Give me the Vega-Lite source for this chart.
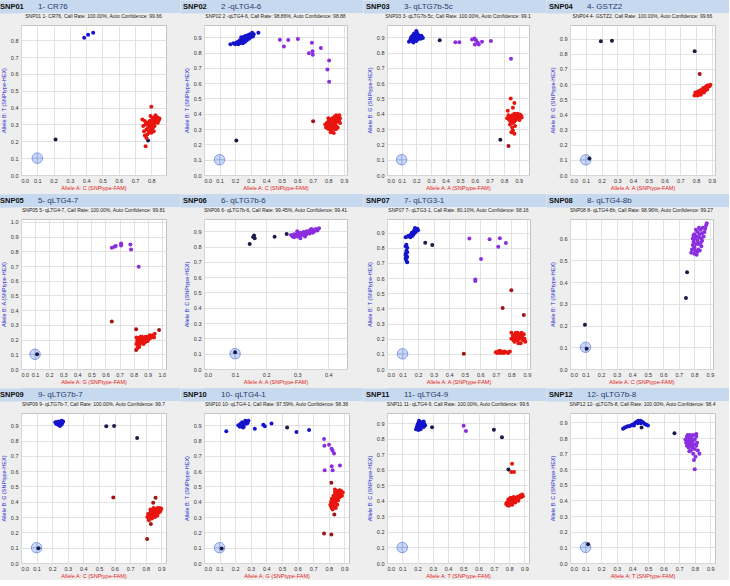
{
"$schema": "https://vega.github.io/schema/vega-lite/v6.json",
"padding": {"left": 0, "top": 0, "right": 0, "bottom": 0},
"datasets": {
"hdr": [
{"s":1,"part":"id","label":"SNP01"},{"s":1,"part":"name","label":"1- CR76"},
{"s":2,"part":"id","label":"SNP02"},{"s":2,"part":"name","label":"2 -qLTG4-6"},
{"s":3,"part":"id","label":"SNP03"},{"s":3,"part":"name","label":"3- qLTG7b-5c"},
{"s":4,"part":"id","label":"SNP04"},{"s":4,"part":"name","label":"4- GSTZ2"},
{"s":5,"part":"id","label":"SNP05"},{"s":5,"part":"name","label":"5- qLTG4-7"},
{"s":6,"part":"id","label":"SNP06"},{"s":6,"part":"name","label":"6- qLTG7b-6"},
{"s":7,"part":"id","label":"SNP07"},{"s":7,"part":"name","label":"7- qLTG3-1"},
{"s":8,"part":"id","label":"SNP08"},{"s":8,"part":"name","label":"8- qLTG4-8b"},
{"s":9,"part":"id","label":"SNP09"},{"s":9,"part":"name","label":"9- qLTG7b-7"},
{"s":10,"part":"id","label":"SNP10"},{"s":10,"part":"name","label":"10- qLTG4-1"},
{"s":11,"part":"id","label":"SNP11"},{"s":11,"part":"name","label":"11- qLTG4-9"},
{"s":12,"part":"id","label":"SNP12"},{"s":12,"part":"name","label":"12- qLTG7b-8"}
],
"pts": [
{"s":1,"g":"NTC","x":0.1,"y":0.1},{"s":2,"g":"NTC","x":0.1,"y":0.1},{"s":3,"g":"NTC","x":0.1,"y":0.1},{"s":4,"g":"NTC","x":0.1,"y":0.1},{"s":5,"g":"NTC","x":0.1,"y":0.1},{"s":6,"g":"NTC","x":0.1,"y":0.1},{"s":7,"g":"NTC","x":0.1,"y":0.1},{"s":8,"g":"NTC","x":0.1,"y":0.1},{"s":9,"g":"NTC","x":0.1,"y":0.1},{"s":10,"g":"NTC","x":0.1,"y":0.1},{"s":11,"g":"NTC","x":0.1,"y":0.1},{"s":12,"g":"NTC","x":0.1,"y":0.1},

{"s":1,"g":"B","x":0.388,"y":0.814},{"s":1,"g":"B","x":0.412,"y":0.832},{"s":1,"g":"B","x":0.443,"y":0.844},
{"s":1,"g":"U","x":0.212,"y":0.21},{"s":1,"g":"U","x":0.78,"y":0.205},
{"s":1,"g":"A","x":0.8,"y":0.405},{"s":1,"g":"A","x":0.745,"y":0.33},{"s":1,"g":"A","x":0.75,"y":0.29},{"s":1,"g":"A","x":0.755,"y":0.26},{"s":1,"g":"A","x":0.76,"y":0.235},{"s":1,"g":"A","x":0.765,"y":0.17},{"s":1,"g":"A","x":0.775,"y":0.24},{"s":1,"g":"A","x":0.77,"y":0.27},{"s":1,"g":"A","x":0.78,"y":0.28},{"s":1,"g":"A","x":0.785,"y":0.3},{"s":1,"g":"A","x":0.79,"y":0.26},{"s":1,"g":"A","x":0.79,"y":0.32},{"s":1,"g":"A","x":0.795,"y":0.29},{"s":1,"g":"A","x":0.8,"y":0.31},{"s":1,"g":"A","x":0.8,"y":0.27},{"s":1,"g":"A","x":0.805,"y":0.33},{"s":1,"g":"A","x":0.81,"y":0.3},{"s":1,"g":"A","x":0.81,"y":0.34},{"s":1,"g":"A","x":0.815,"y":0.32},{"s":1,"g":"A","x":0.82,"y":0.29},{"s":1,"g":"A","x":0.82,"y":0.335},{"s":1,"g":"A","x":0.825,"y":0.31},{"s":1,"g":"A","x":0.83,"y":0.345},{"s":1,"g":"A","x":0.83,"y":0.32},{"s":1,"g":"A","x":0.835,"y":0.33},{"s":1,"g":"A","x":0.84,"y":0.34},{"s":1,"g":"A","x":0.845,"y":0.325},{"s":1,"g":"A","x":0.85,"y":0.335},{"s":1,"g":"A","x":0.84,"y":0.31},{"s":1,"g":"A","x":0.775,"y":0.31},{"s":1,"g":"A","x":0.765,"y":0.3},{"s":1,"g":"A","x":0.785,"y":0.25},{"s":1,"g":"A","x":0.8,"y":0.25},{"s":1,"g":"A","x":0.81,"y":0.28},{"s":1,"g":"A","x":0.795,"y":0.35},{"s":1,"g":"A","x":0.825,"y":0.355},{"s":1,"g":"A","x":0.77,"y":0.22},{"s":1,"g":"A","x":0.76,"y":0.32},{"s":1,"g":"A","x":0.815,"y":0.26},

{"s":2,"g":"B","x":0.17,"y":0.855},{"s":2,"g":"B","x":0.19,"y":0.86},{"s":2,"g":"B","x":0.2,"y":0.855},{"s":2,"g":"B","x":0.21,"y":0.865},{"s":2,"g":"B","x":0.22,"y":0.87},{"s":2,"g":"B","x":0.22,"y":0.855},{"s":2,"g":"B","x":0.23,"y":0.88},{"s":2,"g":"B","x":0.235,"y":0.865},{"s":2,"g":"B","x":0.24,"y":0.875},{"s":2,"g":"B","x":0.245,"y":0.89},{"s":2,"g":"B","x":0.25,"y":0.88},{"s":2,"g":"B","x":0.25,"y":0.86},{"s":2,"g":"B","x":0.255,"y":0.9},{"s":2,"g":"B","x":0.26,"y":0.885},{"s":2,"g":"B","x":0.265,"y":0.87},{"s":2,"g":"B","x":0.27,"y":0.895},{"s":2,"g":"B","x":0.27,"y":0.91},{"s":2,"g":"B","x":0.275,"y":0.88},{"s":2,"g":"B","x":0.28,"y":0.9},{"s":2,"g":"B","x":0.285,"y":0.915},{"s":2,"g":"B","x":0.29,"y":0.89},{"s":2,"g":"B","x":0.29,"y":0.905},{"s":2,"g":"B","x":0.295,"y":0.92},{"s":2,"g":"B","x":0.3,"y":0.9},{"s":2,"g":"B","x":0.305,"y":0.915},{"s":2,"g":"B","x":0.31,"y":0.93},{"s":2,"g":"B","x":0.315,"y":0.905},{"s":2,"g":"B","x":0.32,"y":0.92},{"s":2,"g":"B","x":0.35,"y":0.93},{"s":2,"g":"B","x":0.26,"y":0.905},{"s":2,"g":"B","x":0.24,"y":0.9},{"s":2,"g":"B","x":0.23,"y":0.86},
{"s":2,"g":"H","x":0.488,"y":0.884},{"s":2,"g":"H","x":0.514,"y":0.84},{"s":2,"g":"H","x":0.542,"y":0.882},{"s":2,"g":"H","x":0.604,"y":0.888},{"s":2,"g":"H","x":0.694,"y":0.864},{"s":2,"g":"H","x":0.675,"y":0.796},{"s":2,"g":"H","x":0.698,"y":0.809},{"s":2,"g":"H","x":0.7,"y":0.785},{"s":2,"g":"H","x":0.752,"y":0.829},{"s":2,"g":"H","x":0.805,"y":0.748},{"s":2,"g":"H","x":0.794,"y":0.69},{"s":2,"g":"H","x":0.805,"y":0.61},
{"s":2,"g":"U","x":0.208,"y":0.226},{"s":2,"g":"R","x":0.702,"y":0.351},
{"s":2,"g":"A","x":0.78,"y":0.33},{"s":2,"g":"A","x":0.785,"y":0.31},{"s":2,"g":"A","x":0.79,"y":0.34},{"s":2,"g":"A","x":0.795,"y":0.32},{"s":2,"g":"A","x":0.8,"y":0.3},{"s":2,"g":"A","x":0.8,"y":0.35},{"s":2,"g":"A","x":0.805,"y":0.33},{"s":2,"g":"A","x":0.81,"y":0.31},{"s":2,"g":"A","x":0.81,"y":0.36},{"s":2,"g":"A","x":0.815,"y":0.34},{"s":2,"g":"A","x":0.82,"y":0.32},{"s":2,"g":"A","x":0.82,"y":0.29},{"s":2,"g":"A","x":0.825,"y":0.37},{"s":2,"g":"A","x":0.83,"y":0.35},{"s":2,"g":"A","x":0.83,"y":0.31},{"s":2,"g":"A","x":0.835,"y":0.33},{"s":2,"g":"A","x":0.84,"y":0.38},{"s":2,"g":"A","x":0.84,"y":0.36},{"s":2,"g":"A","x":0.845,"y":0.34},{"s":2,"g":"A","x":0.85,"y":0.39},{"s":2,"g":"A","x":0.85,"y":0.32},{"s":2,"g":"A","x":0.855,"y":0.37},{"s":2,"g":"A","x":0.86,"y":0.35},{"s":2,"g":"A","x":0.865,"y":0.38},{"s":2,"g":"A","x":0.87,"y":0.36},{"s":2,"g":"A","x":0.87,"y":0.39},{"s":2,"g":"A","x":0.875,"y":0.34},{"s":2,"g":"A","x":0.86,"y":0.31},{"s":2,"g":"A","x":0.84,"y":0.3},{"s":2,"g":"A","x":0.815,"y":0.28},{"s":2,"g":"A","x":0.835,"y":0.275},{"s":2,"g":"A","x":0.85,"y":0.3},{"s":2,"g":"A","x":0.875,"y":0.37},{"s":2,"g":"A","x":0.8,"y":0.37},

{"s":3,"g":"B","x":0.15,"y":0.87},{"s":3,"g":"B","x":0.16,"y":0.885},{"s":3,"g":"B","x":0.165,"y":0.9},{"s":3,"g":"B","x":0.17,"y":0.875},{"s":3,"g":"B","x":0.175,"y":0.91},{"s":3,"g":"B","x":0.18,"y":0.89},{"s":3,"g":"B","x":0.18,"y":0.865},{"s":3,"g":"B","x":0.185,"y":0.905},{"s":3,"g":"B","x":0.19,"y":0.88},{"s":3,"g":"B","x":0.19,"y":0.92},{"s":3,"g":"B","x":0.195,"y":0.895},{"s":3,"g":"B","x":0.2,"y":0.91},{"s":3,"g":"B","x":0.2,"y":0.875},{"s":3,"g":"B","x":0.205,"y":0.93},{"s":3,"g":"B","x":0.21,"y":0.9},{"s":3,"g":"B","x":0.21,"y":0.885},{"s":3,"g":"B","x":0.215,"y":0.915},{"s":3,"g":"B","x":0.22,"y":0.895},{"s":3,"g":"B","x":0.225,"y":0.905},{"s":3,"g":"B","x":0.23,"y":0.89},{"s":3,"g":"B","x":0.235,"y":0.91},{"s":3,"g":"B","x":0.24,"y":0.9},{"s":3,"g":"B","x":0.245,"y":0.895},{"s":3,"g":"B","x":0.2,"y":0.94},{"s":3,"g":"B","x":0.17,"y":0.9},{"s":3,"g":"B","x":0.185,"y":0.925},
{"s":3,"g":"U","x":0.36,"y":0.881},
{"s":3,"g":"H","x":0.467,"y":0.868},{"s":3,"g":"H","x":0.494,"y":0.868},{"s":3,"g":"H","x":0.581,"y":0.886},{"s":3,"g":"H","x":0.597,"y":0.892},{"s":3,"g":"H","x":0.608,"y":0.881},{"s":3,"g":"H","x":0.62,"y":0.864},{"s":3,"g":"H","x":0.649,"y":0.87},{"s":3,"g":"H","x":0.627,"y":0.853},{"s":3,"g":"H","x":0.6,"y":0.853},{"s":3,"g":"H","x":0.71,"y":0.875},{"s":3,"g":"H","x":0.847,"y":0.76},
{"s":3,"g":"U","x":0.774,"y":0.231},{"s":3,"g":"R","x":0.83,"y":0.19},
{"s":3,"g":"A","x":0.845,"y":0.5},{"s":3,"g":"A","x":0.87,"y":0.47},{"s":3,"g":"A","x":0.825,"y":0.42},{"s":3,"g":"A","x":0.86,"y":0.44},{"s":3,"g":"A","x":0.83,"y":0.39},{"s":3,"g":"A","x":0.835,"y":0.36},{"s":3,"g":"A","x":0.84,"y":0.38},{"s":3,"g":"A","x":0.845,"y":0.35},{"s":3,"g":"A","x":0.85,"y":0.37},{"s":3,"g":"A","x":0.855,"y":0.39},{"s":3,"g":"A","x":0.86,"y":0.36},{"s":3,"g":"A","x":0.865,"y":0.38},{"s":3,"g":"A","x":0.87,"y":0.4},{"s":3,"g":"A","x":0.875,"y":0.37},{"s":3,"g":"A","x":0.88,"y":0.39},{"s":3,"g":"A","x":0.885,"y":0.38},{"s":3,"g":"A","x":0.89,"y":0.4},{"s":3,"g":"A","x":0.895,"y":0.39},{"s":3,"g":"A","x":0.9,"y":0.37},{"s":3,"g":"A","x":0.905,"y":0.395},{"s":3,"g":"A","x":0.91,"y":0.38},{"s":3,"g":"A","x":0.915,"y":0.39},{"s":3,"g":"A","x":0.92,"y":0.375},{"s":3,"g":"A","x":0.86,"y":0.34},{"s":3,"g":"A","x":0.87,"y":0.35},{"s":3,"g":"A","x":0.88,"y":0.36},{"s":3,"g":"A","x":0.82,"y":0.37},{"s":3,"g":"A","x":0.84,"y":0.33},{"s":3,"g":"A","x":0.855,"y":0.31},{"s":3,"g":"A","x":0.86,"y":0.29},{"s":3,"g":"A","x":0.85,"y":0.28},{"s":3,"g":"A","x":0.87,"y":0.27},{"s":3,"g":"A","x":0.895,"y":0.37},{"s":3,"g":"A","x":0.905,"y":0.36},{"s":3,"g":"A","x":0.875,"y":0.32},

{"s":4,"g":"U","x":0.196,"y":0.882},{"s":4,"g":"U","x":0.266,"y":0.886},{"s":4,"g":"U","x":0.791,"y":0.816},{"s":4,"g":"U","x":0.123,"y":0.109},{"s":4,"g":"R","x":0.823,"y":0.667},
{"s":4,"g":"A","x":0.79,"y":0.525},{"s":4,"g":"A","x":0.8,"y":0.53},{"s":4,"g":"A","x":0.805,"y":0.54},{"s":4,"g":"A","x":0.81,"y":0.525},{"s":4,"g":"A","x":0.815,"y":0.545},{"s":4,"g":"A","x":0.82,"y":0.535},{"s":4,"g":"A","x":0.82,"y":0.555},{"s":4,"g":"A","x":0.825,"y":0.545},{"s":4,"g":"A","x":0.83,"y":0.56},{"s":4,"g":"A","x":0.835,"y":0.55},{"s":4,"g":"A","x":0.84,"y":0.565},{"s":4,"g":"A","x":0.84,"y":0.545},{"s":4,"g":"A","x":0.845,"y":0.575},{"s":4,"g":"A","x":0.85,"y":0.56},{"s":4,"g":"A","x":0.855,"y":0.57},{"s":4,"g":"A","x":0.86,"y":0.58},{"s":4,"g":"A","x":0.86,"y":0.56},{"s":4,"g":"A","x":0.865,"y":0.575},{"s":4,"g":"A","x":0.87,"y":0.59},{"s":4,"g":"A","x":0.875,"y":0.58},{"s":4,"g":"A","x":0.88,"y":0.59},{"s":4,"g":"A","x":0.885,"y":0.585},{"s":4,"g":"A","x":0.89,"y":0.595},{"s":4,"g":"A","x":0.83,"y":0.53},{"s":4,"g":"A","x":0.85,"y":0.545},{"s":4,"g":"A","x":0.81,"y":0.55},{"s":4,"g":"A","x":0.795,"y":0.545},{"s":4,"g":"A","x":0.87,"y":0.565},

{"s":5,"g":"H","x":0.645,"y":0.825},{"s":5,"g":"H","x":0.664,"y":0.831},{"s":5,"g":"H","x":0.673,"y":0.836},{"s":5,"g":"H","x":0.711,"y":0.854},{"s":5,"g":"H","x":0.711,"y":0.84},{"s":5,"g":"H","x":0.777,"y":0.847},{"s":5,"g":"H","x":0.782,"y":0.813},{"s":5,"g":"H","x":0.836,"y":0.695},
{"s":5,"g":"R","x":0.645,"y":0.323},{"s":5,"g":"R","x":0.818,"y":0.271},{"s":5,"g":"R","x":0.981,"y":0.266},{"s":5,"g":"R","x":0.818,"y":0.13},{"s":5,"g":"U","x":0.114,"y":0.1},
{"s":5,"g":"A","x":0.82,"y":0.17},{"s":5,"g":"A","x":0.825,"y":0.19},{"s":5,"g":"A","x":0.83,"y":0.16},{"s":5,"g":"A","x":0.83,"y":0.2},{"s":5,"g":"A","x":0.835,"y":0.18},{"s":5,"g":"A","x":0.84,"y":0.21},{"s":5,"g":"A","x":0.845,"y":0.17},{"s":5,"g":"A","x":0.85,"y":0.19},{"s":5,"g":"A","x":0.855,"y":0.2},{"s":5,"g":"A","x":0.86,"y":0.18},{"s":5,"g":"A","x":0.86,"y":0.22},{"s":5,"g":"A","x":0.865,"y":0.2},{"s":5,"g":"A","x":0.87,"y":0.19},{"s":5,"g":"A","x":0.875,"y":0.21},{"s":5,"g":"A","x":0.88,"y":0.2},{"s":5,"g":"A","x":0.885,"y":0.22},{"s":5,"g":"A","x":0.89,"y":0.21},{"s":5,"g":"A","x":0.895,"y":0.19},{"s":5,"g":"A","x":0.9,"y":0.22},{"s":5,"g":"A","x":0.905,"y":0.2},{"s":5,"g":"A","x":0.91,"y":0.21},{"s":5,"g":"A","x":0.915,"y":0.23},{"s":5,"g":"A","x":0.92,"y":0.21},{"s":5,"g":"A","x":0.93,"y":0.22},{"s":5,"g":"A","x":0.935,"y":0.23},{"s":5,"g":"A","x":0.94,"y":0.225},{"s":5,"g":"A","x":0.95,"y":0.24},{"s":5,"g":"A","x":0.84,"y":0.15},{"s":5,"g":"A","x":0.825,"y":0.14},{"s":5,"g":"A","x":0.87,"y":0.17},{"s":5,"g":"A","x":0.85,"y":0.22},{"s":5,"g":"A","x":0.88,"y":0.18},{"s":5,"g":"A","x":0.9,"y":0.19},{"s":5,"g":"A","x":0.82,"y":0.215},{"s":5,"g":"A","x":0.945,"y":0.215},

{"s":6,"g":"U","x":0.147,"y":0.817},{"s":6,"g":"U","x":0.158,"y":0.862},{"s":6,"g":"U","x":0.161,"y":0.873},{"s":6,"g":"U","x":0.163,"y":0.855},{"s":6,"g":"U","x":0.227,"y":0.864},{"s":6,"g":"U","x":0.266,"y":0.882},{"s":6,"g":"U","x":0.1,"y":0.11},
{"s":6,"g":"H","x":0.28,"y":0.875},{"s":6,"g":"H","x":0.285,"y":0.865},{"s":6,"g":"H","x":0.29,"y":0.88},{"s":6,"g":"H","x":0.295,"y":0.87},{"s":6,"g":"H","x":0.3,"y":0.885},{"s":6,"g":"H","x":0.3,"y":0.865},{"s":6,"g":"H","x":0.305,"y":0.875},{"s":6,"g":"H","x":0.31,"y":0.89},{"s":6,"g":"H","x":0.31,"y":0.87},{"s":6,"g":"H","x":0.315,"y":0.88},{"s":6,"g":"H","x":0.32,"y":0.895},{"s":6,"g":"H","x":0.32,"y":0.875},{"s":6,"g":"H","x":0.325,"y":0.885},{"s":6,"g":"H","x":0.33,"y":0.9},{"s":6,"g":"H","x":0.33,"y":0.88},{"s":6,"g":"H","x":0.335,"y":0.89},{"s":6,"g":"H","x":0.34,"y":0.905},{"s":6,"g":"H","x":0.34,"y":0.885},{"s":6,"g":"H","x":0.345,"y":0.895},{"s":6,"g":"H","x":0.35,"y":0.91},{"s":6,"g":"H","x":0.35,"y":0.89},{"s":6,"g":"H","x":0.355,"y":0.9},{"s":6,"g":"H","x":0.36,"y":0.915},{"s":6,"g":"H","x":0.365,"y":0.905},{"s":6,"g":"H","x":0.37,"y":0.92},{"s":6,"g":"H","x":0.3,"y":0.9},{"s":6,"g":"H","x":0.29,"y":0.86},{"s":6,"g":"H","x":0.325,"y":0.865},{"s":6,"g":"H","x":0.345,"y":0.915},{"s":6,"g":"H","x":0.31,"y":0.855},

{"s":7,"g":"B","x":0.12,"y":0.87},{"s":7,"g":"B","x":0.13,"y":0.875},{"s":7,"g":"B","x":0.14,"y":0.88},{"s":7,"g":"B","x":0.15,"y":0.87},{"s":7,"g":"B","x":0.155,"y":0.89},{"s":7,"g":"B","x":0.16,"y":0.9},{"s":7,"g":"B","x":0.165,"y":0.88},{"s":7,"g":"B","x":0.17,"y":0.905},{"s":7,"g":"B","x":0.175,"y":0.915},{"s":7,"g":"B","x":0.18,"y":0.9},{"s":7,"g":"B","x":0.185,"y":0.92},{"s":7,"g":"B","x":0.19,"y":0.91},{"s":7,"g":"B","x":0.195,"y":0.925},{"s":7,"g":"B","x":0.2,"y":0.915},{"s":7,"g":"B","x":0.17,"y":0.89},{"s":7,"g":"B","x":0.16,"y":0.88},{"s":7,"g":"B","x":0.18,"y":0.93},
{"s":7,"g":"B","x":0.125,"y":0.82},{"s":7,"g":"B","x":0.13,"y":0.8},{"s":7,"g":"B","x":0.12,"y":0.81},{"s":7,"g":"B","x":0.125,"y":0.78},{"s":7,"g":"B","x":0.13,"y":0.77},{"s":7,"g":"B","x":0.12,"y":0.76},{"s":7,"g":"B","x":0.125,"y":0.745},{"s":7,"g":"B","x":0.13,"y":0.74},{"s":7,"g":"B","x":0.12,"y":0.73},{"s":7,"g":"B","x":0.125,"y":0.715},{"s":7,"g":"B","x":0.13,"y":0.705},{"s":7,"g":"B","x":0.12,"y":0.75},
{"s":7,"g":"U","x":0.246,"y":0.834},{"s":7,"g":"U","x":0.291,"y":0.819},
{"s":7,"g":"H","x":0.53,"y":0.861},{"s":7,"g":"H","x":0.605,"y":0.726},{"s":7,"g":"H","x":0.568,"y":0.591},{"s":7,"g":"H","x":0.568,"y":0.58},{"s":7,"g":"H","x":0.66,"y":0.856},{"s":7,"g":"H","x":0.726,"y":0.863},{"s":7,"g":"H","x":0.716,"y":0.807},{"s":7,"g":"H","x":0.765,"y":0.832},
{"s":7,"g":"R","x":0.8,"y":0.52},{"s":7,"g":"R","x":0.744,"y":0.403},{"s":7,"g":"R","x":0.88,"y":0.356},{"s":7,"g":"R","x":0.494,"y":0.1},
{"s":7,"g":"A","x":0.8,"y":0.2},{"s":7,"g":"A","x":0.81,"y":0.22},{"s":7,"g":"A","x":0.815,"y":0.19},{"s":7,"g":"A","x":0.82,"y":0.21},{"s":7,"g":"A","x":0.825,"y":0.235},{"s":7,"g":"A","x":0.83,"y":0.2},{"s":7,"g":"A","x":0.835,"y":0.22},{"s":7,"g":"A","x":0.84,"y":0.24},{"s":7,"g":"A","x":0.84,"y":0.19},{"s":7,"g":"A","x":0.845,"y":0.21},{"s":7,"g":"A","x":0.85,"y":0.23},{"s":7,"g":"A","x":0.855,"y":0.2},{"s":7,"g":"A","x":0.86,"y":0.22},{"s":7,"g":"A","x":0.865,"y":0.24},{"s":7,"g":"A","x":0.87,"y":0.21},{"s":7,"g":"A","x":0.875,"y":0.19},{"s":7,"g":"A","x":0.88,"y":0.23},{"s":7,"g":"A","x":0.885,"y":0.2},{"s":7,"g":"A","x":0.89,"y":0.18},{"s":7,"g":"A","x":0.82,"y":0.18},{"s":7,"g":"A","x":0.83,"y":0.24},{"s":7,"g":"A","x":0.86,"y":0.17},{"s":7,"g":"A","x":0.845,"y":0.17},{"s":7,"g":"A","x":0.8,"y":0.24},
{"s":7,"g":"A","x":0.7,"y":0.11},{"s":7,"g":"A","x":0.71,"y":0.105},{"s":7,"g":"A","x":0.715,"y":0.115},{"s":7,"g":"A","x":0.72,"y":0.11},{"s":7,"g":"A","x":0.73,"y":0.105},{"s":7,"g":"A","x":0.735,"y":0.115},{"s":7,"g":"A","x":0.74,"y":0.11},{"s":7,"g":"A","x":0.75,"y":0.105},{"s":7,"g":"A","x":0.755,"y":0.115},{"s":7,"g":"A","x":0.76,"y":0.11},{"s":7,"g":"A","x":0.77,"y":0.11},{"s":7,"g":"A","x":0.78,"y":0.105},{"s":7,"g":"A","x":0.79,"y":0.115},{"s":7,"g":"A","x":0.725,"y":0.12},

{"s":8,"g":"H","x":0.78,"y":0.535},{"s":8,"g":"H","x":0.785,"y":0.55},{"s":8,"g":"H","x":0.79,"y":0.57},{"s":8,"g":"H","x":0.79,"y":0.6},{"s":8,"g":"H","x":0.795,"y":0.585},{"s":8,"g":"H","x":0.8,"y":0.56},{"s":8,"g":"H","x":0.8,"y":0.62},{"s":8,"g":"H","x":0.805,"y":0.6},{"s":8,"g":"H","x":0.81,"y":0.575},{"s":8,"g":"H","x":0.81,"y":0.64},{"s":8,"g":"H","x":0.815,"y":0.61},{"s":8,"g":"H","x":0.82,"y":0.59},{"s":8,"g":"H","x":0.82,"y":0.63},{"s":8,"g":"H","x":0.825,"y":0.55},{"s":8,"g":"H","x":0.83,"y":0.605},{"s":8,"g":"H","x":0.83,"y":0.65},{"s":8,"g":"H","x":0.835,"y":0.62},{"s":8,"g":"H","x":0.84,"y":0.58},{"s":8,"g":"H","x":0.84,"y":0.64},{"s":8,"g":"H","x":0.845,"y":0.6},{"s":8,"g":"H","x":0.85,"y":0.625},{"s":8,"g":"H","x":0.855,"y":0.65},{"s":8,"g":"H","x":0.86,"y":0.61},{"s":8,"g":"H","x":0.865,"y":0.63},{"s":8,"g":"H","x":0.87,"y":0.645},{"s":8,"g":"H","x":0.875,"y":0.66},{"s":8,"g":"H","x":0.82,"y":0.54},{"s":8,"g":"H","x":0.835,"y":0.545},{"s":8,"g":"H","x":0.8,"y":0.53},{"s":8,"g":"H","x":0.805,"y":0.545},{"s":8,"g":"H","x":0.845,"y":0.565},{"s":8,"g":"H","x":0.815,"y":0.525},{"s":8,"g":"H","x":0.88,"y":0.67},{"s":8,"g":"H","x":0.795,"y":0.615},{"s":8,"g":"H","x":0.825,"y":0.575},{"s":8,"g":"H","x":0.85,"y":0.59},
{"s":8,"g":"U","x":0.753,"y":0.445},{"s":8,"g":"U","x":0.746,"y":0.327},{"s":8,"g":"U","x":0.096,"y":0.204},{"s":8,"g":"U","x":0.107,"y":0.093},

{"s":9,"g":"B","x":0.22,"y":0.92},{"s":9,"g":"B","x":0.225,"y":0.91},{"s":9,"g":"B","x":0.23,"y":0.92},{"s":9,"g":"B","x":0.235,"y":0.905},{"s":9,"g":"B","x":0.24,"y":0.915},{"s":9,"g":"B","x":0.245,"y":0.9},{"s":9,"g":"B","x":0.25,"y":0.91},{"s":9,"g":"B","x":0.255,"y":0.92},{"s":9,"g":"B","x":0.26,"y":0.905},{"s":9,"g":"B","x":0.265,"y":0.915},{"s":9,"g":"B","x":0.27,"y":0.925},{"s":9,"g":"B","x":0.24,"y":0.925},{"s":9,"g":"B","x":0.25,"y":0.895},{"s":9,"g":"B","x":0.26,"y":0.93},
{"s":9,"g":"U","x":0.547,"y":0.893},{"s":9,"g":"U","x":0.597,"y":0.895},{"s":9,"g":"U","x":0.745,"y":0.817},{"s":9,"g":"U","x":0.112,"y":0.096},
{"s":9,"g":"R","x":0.592,"y":0.428},{"s":9,"g":"R","x":0.863,"y":0.426},{"s":9,"g":"R","x":0.848,"y":0.393},{"s":9,"g":"R","x":0.833,"y":0.255},{"s":9,"g":"R","x":0.809,"y":0.157},
{"s":9,"g":"A","x":0.81,"y":0.3},{"s":9,"g":"A","x":0.815,"y":0.32},{"s":9,"g":"A","x":0.82,"y":0.29},{"s":9,"g":"A","x":0.825,"y":0.31},{"s":9,"g":"A","x":0.83,"y":0.33},{"s":9,"g":"A","x":0.835,"y":0.3},{"s":9,"g":"A","x":0.84,"y":0.32},{"s":9,"g":"A","x":0.845,"y":0.34},{"s":9,"g":"A","x":0.85,"y":0.31},{"s":9,"g":"A","x":0.855,"y":0.33},{"s":9,"g":"A","x":0.86,"y":0.35},{"s":9,"g":"A","x":0.865,"y":0.32},{"s":9,"g":"A","x":0.87,"y":0.34},{"s":9,"g":"A","x":0.875,"y":0.31},{"s":9,"g":"A","x":0.88,"y":0.35},{"s":9,"g":"A","x":0.885,"y":0.33},{"s":9,"g":"A","x":0.89,"y":0.36},{"s":9,"g":"A","x":0.895,"y":0.34},{"s":9,"g":"A","x":0.9,"y":0.355},{"s":9,"g":"A","x":0.86,"y":0.3},{"s":9,"g":"A","x":0.84,"y":0.29},{"s":9,"g":"A","x":0.82,"y":0.28},{"s":9,"g":"A","x":0.875,"y":0.36},{"s":9,"g":"A","x":0.83,"y":0.35},{"s":9,"g":"A","x":0.85,"y":0.36},

{"s":10,"g":"B","x":0.22,"y":0.9},{"s":10,"g":"B","x":0.23,"y":0.89},{"s":10,"g":"B","x":0.235,"y":0.91},{"s":10,"g":"B","x":0.24,"y":0.895},{"s":10,"g":"B","x":0.245,"y":0.92},{"s":10,"g":"B","x":0.25,"y":0.905},{"s":10,"g":"B","x":0.255,"y":0.89},{"s":10,"g":"B","x":0.26,"y":0.915},{"s":10,"g":"B","x":0.265,"y":0.93},{"s":10,"g":"B","x":0.27,"y":0.91},{"s":10,"g":"B","x":0.275,"y":0.925},{"s":10,"g":"B","x":0.28,"y":0.915},{"s":10,"g":"B","x":0.285,"y":0.93},{"s":10,"g":"B","x":0.25,"y":0.885},{"s":10,"g":"B","x":0.24,"y":0.905},
{"s":10,"g":"B","x":0.143,"y":0.86},{"s":10,"g":"B","x":0.326,"y":0.877},{"s":10,"g":"B","x":0.38,"y":0.904},{"s":10,"g":"B","x":0.39,"y":0.893},{"s":10,"g":"B","x":0.433,"y":0.912},{"s":10,"g":"U","x":0.533,"y":0.886},{"s":10,"g":"B","x":0.593,"y":0.856},{"s":10,"g":"B","x":0.674,"y":0.869},
{"s":10,"g":"H","x":0.77,"y":0.81},{"s":10,"g":"H","x":0.772,"y":0.766},{"s":10,"g":"H","x":0.802,"y":0.772},{"s":10,"g":"H","x":0.819,"y":0.746},{"s":10,"g":"H","x":0.825,"y":0.733},{"s":10,"g":"H","x":0.834,"y":0.716},{"s":10,"g":"H","x":0.819,"y":0.632},{"s":10,"g":"H","x":0.825,"y":0.606},{"s":10,"g":"H","x":0.774,"y":0.606},{"s":10,"g":"H","x":0.872,"y":0.637},
{"s":10,"g":"R","x":0.817,"y":0.525},{"s":10,"g":"R","x":0.836,"y":0.317},{"s":10,"g":"R","x":0.77,"y":0.193},{"s":10,"g":"R","x":0.817,"y":0.186},{"s":10,"g":"U","x":0.113,"y":0.094},
{"s":10,"g":"A","x":0.81,"y":0.38},{"s":10,"g":"A","x":0.815,"y":0.4},{"s":10,"g":"A","x":0.82,"y":0.36},{"s":10,"g":"A","x":0.82,"y":0.42},{"s":10,"g":"A","x":0.825,"y":0.39},{"s":10,"g":"A","x":0.83,"y":0.41},{"s":10,"g":"A","x":0.83,"y":0.44},{"s":10,"g":"A","x":0.835,"y":0.37},{"s":10,"g":"A","x":0.84,"y":0.43},{"s":10,"g":"A","x":0.84,"y":0.46},{"s":10,"g":"A","x":0.845,"y":0.4},{"s":10,"g":"A","x":0.85,"y":0.42},{"s":10,"g":"A","x":0.85,"y":0.45},{"s":10,"g":"A","x":0.855,"y":0.47},{"s":10,"g":"A","x":0.86,"y":0.44},{"s":10,"g":"A","x":0.86,"y":0.41},{"s":10,"g":"A","x":0.865,"y":0.46},{"s":10,"g":"A","x":0.87,"y":0.43},{"s":10,"g":"A","x":0.87,"y":0.475},{"s":10,"g":"A","x":0.875,"y":0.45},{"s":10,"g":"A","x":0.88,"y":0.47},{"s":10,"g":"A","x":0.885,"y":0.44},{"s":10,"g":"A","x":0.89,"y":0.46},{"s":10,"g":"A","x":0.825,"y":0.35},{"s":10,"g":"A","x":0.835,"y":0.39},{"s":10,"g":"A","x":0.845,"y":0.36},{"s":10,"g":"A","x":0.855,"y":0.38},{"s":10,"g":"A","x":0.815,"y":0.37},{"s":10,"g":"A","x":0.84,"y":0.48},

{"s":11,"g":"B","x":0.19,"y":0.86},{"s":11,"g":"B","x":0.195,"y":0.875},{"s":11,"g":"B","x":0.2,"y":0.865},{"s":11,"g":"B","x":0.2,"y":0.89},{"s":11,"g":"B","x":0.205,"y":0.9},{"s":11,"g":"B","x":0.21,"y":0.88},{"s":11,"g":"B","x":0.21,"y":0.915},{"s":11,"g":"B","x":0.215,"y":0.87},{"s":11,"g":"B","x":0.22,"y":0.895},{"s":11,"g":"B","x":0.22,"y":0.86},{"s":11,"g":"B","x":0.225,"y":0.905},{"s":11,"g":"B","x":0.23,"y":0.88},{"s":11,"g":"B","x":0.235,"y":0.89},{"s":11,"g":"B","x":0.24,"y":0.91},{"s":11,"g":"B","x":0.24,"y":0.875},{"s":11,"g":"B","x":0.245,"y":0.895},{"s":11,"g":"B","x":0.25,"y":0.885},{"s":11,"g":"B","x":0.205,"y":0.855},
{"s":11,"g":"U","x":0.295,"y":0.874},{"s":11,"g":"H","x":0.502,"y":0.883},{"s":11,"g":"H","x":0.517,"y":0.85},{"s":11,"g":"U","x":0.7,"y":0.857},{"s":11,"g":"U","x":0.753,"y":0.809},
{"s":11,"g":"A","x":0.819,"y":0.638},{"s":11,"g":"A","x":0.814,"y":0.586},{"s":11,"g":"A","x":0.832,"y":0.586},{"s":11,"g":"U","x":0.795,"y":0.601},
{"s":11,"g":"A","x":0.78,"y":0.38},{"s":11,"g":"A","x":0.785,"y":0.39},{"s":11,"g":"A","x":0.79,"y":0.37},{"s":11,"g":"A","x":0.795,"y":0.395},{"s":11,"g":"A","x":0.8,"y":0.385},{"s":11,"g":"A","x":0.805,"y":0.4},{"s":11,"g":"A","x":0.81,"y":0.38},{"s":11,"g":"A","x":0.815,"y":0.405},{"s":11,"g":"A","x":0.82,"y":0.39},{"s":11,"g":"A","x":0.825,"y":0.41},{"s":11,"g":"A","x":0.83,"y":0.4},{"s":11,"g":"A","x":0.835,"y":0.415},{"s":11,"g":"A","x":0.84,"y":0.405},{"s":11,"g":"A","x":0.845,"y":0.42},{"s":11,"g":"A","x":0.85,"y":0.41},{"s":11,"g":"A","x":0.855,"y":0.425},{"s":11,"g":"A","x":0.86,"y":0.415},{"s":11,"g":"A","x":0.865,"y":0.43},{"s":11,"g":"A","x":0.87,"y":0.42},{"s":11,"g":"A","x":0.875,"y":0.435},{"s":11,"g":"A","x":0.88,"y":0.425},{"s":11,"g":"A","x":0.885,"y":0.44},{"s":11,"g":"A","x":0.89,"y":0.43},{"s":11,"g":"A","x":0.8,"y":0.37},{"s":11,"g":"A","x":0.82,"y":0.375},{"s":11,"g":"A","x":0.84,"y":0.39},{"s":11,"g":"A","x":0.86,"y":0.4},{"s":11,"g":"A","x":0.795,"y":0.41},{"s":11,"g":"A","x":0.81,"y":0.42},{"s":11,"g":"A","x":0.83,"y":0.425},

{"s":12,"g":"B","x":0.34,"y":0.86},{"s":12,"g":"B","x":0.35,"y":0.865},{"s":12,"g":"B","x":0.36,"y":0.87},{"s":12,"g":"B","x":0.37,"y":0.875},{"s":12,"g":"B","x":0.38,"y":0.875},{"s":12,"g":"B","x":0.39,"y":0.88},{"s":12,"g":"B","x":0.4,"y":0.885},{"s":12,"g":"B","x":0.41,"y":0.89},{"s":12,"g":"B","x":0.42,"y":0.9},{"s":12,"g":"B","x":0.43,"y":0.905},{"s":12,"g":"B","x":0.44,"y":0.91},{"s":12,"g":"B","x":0.45,"y":0.91},{"s":12,"g":"B","x":0.46,"y":0.905},{"s":12,"g":"B","x":0.47,"y":0.9},{"s":12,"g":"B","x":0.48,"y":0.89},{"s":12,"g":"B","x":0.49,"y":0.885},{"s":12,"g":"B","x":0.5,"y":0.88},{"s":12,"g":"B","x":0.435,"y":0.895},{"s":12,"g":"B","x":0.455,"y":0.895},{"s":12,"g":"B","x":0.41,"y":0.88},
{"s":12,"g":"U","x":0.459,"y":0.867},{"s":12,"g":"U","x":0.67,"y":0.83},{"s":12,"g":"U","x":0.116,"y":0.12},
{"s":12,"g":"H","x":0.74,"y":0.79},{"s":12,"g":"H","x":0.745,"y":0.77},{"s":12,"g":"H","x":0.75,"y":0.81},{"s":12,"g":"H","x":0.75,"y":0.75},{"s":12,"g":"H","x":0.755,"y":0.78},{"s":12,"g":"H","x":0.76,"y":0.8},{"s":12,"g":"H","x":0.76,"y":0.74},{"s":12,"g":"H","x":0.765,"y":0.76},{"s":12,"g":"H","x":0.77,"y":0.82},{"s":12,"g":"H","x":0.77,"y":0.79},{"s":12,"g":"H","x":0.775,"y":0.72},{"s":12,"g":"H","x":0.775,"y":0.77},{"s":12,"g":"H","x":0.78,"y":0.8},{"s":12,"g":"H","x":0.78,"y":0.75},{"s":12,"g":"H","x":0.785,"y":0.78},{"s":12,"g":"H","x":0.79,"y":0.82},{"s":12,"g":"H","x":0.79,"y":0.7},{"s":12,"g":"H","x":0.795,"y":0.76},{"s":12,"g":"H","x":0.8,"y":0.79},{"s":12,"g":"H","x":0.8,"y":0.73},{"s":12,"g":"H","x":0.805,"y":0.68},{"s":12,"g":"H","x":0.81,"y":0.81},{"s":12,"g":"H","x":0.81,"y":0.75},{"s":12,"g":"H","x":0.815,"y":0.77},{"s":12,"g":"H","x":0.82,"y":0.72},{"s":12,"g":"H","x":0.795,"y":0.66},{"s":12,"g":"H","x":0.8,"y":0.6},{"s":12,"g":"H","x":0.83,"y":0.7},{"s":12,"g":"H","x":0.765,"y":0.715},{"s":12,"g":"H","x":0.785,"y":0.74},{"s":12,"g":"H","x":0.81,"y":0.825},{"s":12,"g":"H","x":0.755,"y":0.82}
]
},
"vconcat": [
{"hconcat": [
{"vconcat": [
{"width": 159, "height": 13, "data": {"name": "hdr"}, "transform": [{"filter": "datum.s == 1"}], "view": {"fill": "#c7d9ee", "stroke": null},
 "encoding": {"x": {"field": "part", "type": "nominal", "scale": {"domain": ["id","name"], "range": [-21,17], "padding": 0}, "axis": null},
              "y": {"field": "s", "type": "nominal", "axis": {"domain": true, "domainColor": "#c7d9ee", "domainWidth": 24, "domainCap": "butt", "offset": 12, "labels": false, "ticks": false, "title": null, "grid": false}},
              "text": {"field": "label"}},
 "layer": [{"transform": [{"filter": "datum.part == 'id'"}], "mark": {"type": "text", "align": "left", "fontWeight": "bold", "fontSize": 7.5, "color": "#111111"}},
           {"transform": [{"filter": "datum.part == 'name'"}], "mark": {"type": "text", "align": "left", "fontSize": 8, "color": "#25406e"}}]},
{"width": 145, "height": 150, "title": "SNP01  1- CR76, Call Rate: 100.00%, Auto Confidence: 99.66",
 "data": {"name": "pts"}, "transform": [{"filter": "datum.s == 1"}],
 "encoding": {"x": {"field": "x", "type": "quantitative", "scale": {"domain": [0,0.89], "nice": false, "zero": false}, "axis": {"title": "Allele A: C (SNPtype-FAM)", "values": [0,0.1,0.2,0.3,0.4,0.5,0.6,0.7,0.8,0.9,1], "format": ".1f"}},
              "y": {"field": "y", "type": "quantitative", "scale": {"domain": [0,0.89], "nice": false, "zero": false}, "axis": {"title": "Allele B: T (SNPtype-HEX)", "values": [0,0.1,0.2,0.3,0.4,0.5,0.6,0.7,0.8,0.9,1], "format": ".1f"}}},
 "layer": [
  {"transform": [{"filter": "datum.g == 'NTC'"}], "mark": {"type": "point", "filled": true, "size": 110, "fill": "#a9bff2", "fillOpacity": 0.6, "stroke": "#6d8ce0", "strokeWidth": 0.8}},
  {"transform": [{"filter": "datum.g == 'NTC'"}], "mark": {"type": "point", "shape": "M-1,0L1,0M0,-1L0,1", "size": 110, "filled": false, "stroke": "#6d8ce0", "strokeWidth": 0.7}},
  {"transform": [{"filter": "datum.g != 'NTC'"}], "mark": {"type": "circle", "size": 16, "opacity": 1, "clip": true}, "encoding": {"color": {"field": "g", "type": "nominal", "scale": {"domain": ["A","R","B","H","U"], "range": ["#e8150e","#a31515","#1414cc","#8a2ee0","#1c1c48"]}, "legend": null}}}
 ]}
], "spacing": 0},
{"vconcat": [
{"width": 159, "height": 13, "data": {"name": "hdr"}, "transform": [{"filter": "datum.s == 2"}], "view": {"fill": "#c7d9ee", "stroke": null},
 "encoding": {"x": {"field": "part", "type": "nominal", "scale": {"domain": ["id","name"], "range": [-21,17], "padding": 0}, "axis": null},
              "y": {"field": "s", "type": "nominal", "axis": {"domain": true, "domainColor": "#c7d9ee", "domainWidth": 24, "domainCap": "butt", "offset": 12, "labels": false, "ticks": false, "title": null, "grid": false}},
              "text": {"field": "label"}},
 "layer": [{"transform": [{"filter": "datum.part == 'id'"}], "mark": {"type": "text", "align": "left", "fontWeight": "bold", "fontSize": 7.5, "color": "#111111"}},
           {"transform": [{"filter": "datum.part == 'name'"}], "mark": {"type": "text", "align": "left", "fontSize": 8, "color": "#25406e"}}]},
{"width": 143, "height": 150, "title": "SNP02  2 -qLTG4-6, Call Rate: 98.86%, Auto Confidence: 98.88",
 "data": {"name": "pts"}, "transform": [{"filter": "datum.s == 2"}],
 "encoding": {"x": {"field": "x", "type": "quantitative", "scale": {"domain": [0,0.92], "nice": false, "zero": false}, "axis": {"title": "Allele A: C (SNPtype-FAM)", "values": [0,0.1,0.2,0.3,0.4,0.5,0.6,0.7,0.8,0.9,1], "format": ".1f"}},
              "y": {"field": "y", "type": "quantitative", "scale": {"domain": [0,0.98], "nice": false, "zero": false}, "axis": {"title": "Allele B: T (SNPtype-HEX)", "values": [0,0.1,0.2,0.3,0.4,0.5,0.6,0.7,0.8,0.9,1], "format": ".1f"}}},
 "layer": [
  {"transform": [{"filter": "datum.g == 'NTC'"}], "mark": {"type": "point", "filled": true, "size": 110, "fill": "#a9bff2", "fillOpacity": 0.6, "stroke": "#6d8ce0", "strokeWidth": 0.8}},
  {"transform": [{"filter": "datum.g == 'NTC'"}], "mark": {"type": "point", "shape": "M-1,0L1,0M0,-1L0,1", "size": 110, "filled": false, "stroke": "#6d8ce0", "strokeWidth": 0.7}},
  {"transform": [{"filter": "datum.g != 'NTC'"}], "mark": {"type": "circle", "size": 16, "opacity": 1, "clip": true}, "encoding": {"color": {"field": "g", "type": "nominal", "scale": {"domain": ["A","R","B","H","U"], "range": ["#e8150e","#a31515","#1414cc","#8a2ee0","#1c1c48"]}, "legend": null}}}
 ]}
], "spacing": 0},
{"vconcat": [
{"width": 159, "height": 13, "data": {"name": "hdr"}, "transform": [{"filter": "datum.s == 3"}], "view": {"fill": "#c7d9ee", "stroke": null},
 "encoding": {"x": {"field": "part", "type": "nominal", "scale": {"domain": ["id","name"], "range": [-21,17], "padding": 0}, "axis": null},
              "y": {"field": "s", "type": "nominal", "axis": {"domain": true, "domainColor": "#c7d9ee", "domainWidth": 24, "domainCap": "butt", "offset": 12, "labels": false, "ticks": false, "title": null, "grid": false}},
              "text": {"field": "label"}},
 "layer": [{"transform": [{"filter": "datum.part == 'id'"}], "mark": {"type": "text", "align": "left", "fontWeight": "bold", "fontSize": 7.5, "color": "#111111"}},
           {"transform": [{"filter": "datum.part == 'name'"}], "mark": {"type": "text", "align": "left", "fontSize": 8, "color": "#25406e"}}]},
{"width": 142, "height": 150, "title": "SNP03  3- qLTG7b-5c, Call Rate: 100.00%, Auto Confidence: 99.1",
 "data": {"name": "pts"}, "transform": [{"filter": "datum.s == 3"}],
 "encoding": {"x": {"field": "x", "type": "quantitative", "scale": {"domain": [0,0.97], "nice": false, "zero": false}, "axis": {"title": "Allele A: A (SNPtype-FAM)", "values": [0,0.1,0.2,0.3,0.4,0.5,0.6,0.7,0.8,0.9,1], "format": ".1f"}},
              "y": {"field": "y", "type": "quantitative", "scale": {"domain": [0,0.98], "nice": false, "zero": false}, "axis": {"title": "Allele B: G (SNPtype-HEX)", "values": [0,0.1,0.2,0.3,0.4,0.5,0.6,0.7,0.8,0.9,1], "format": ".1f"}}},
 "layer": [
  {"transform": [{"filter": "datum.g == 'NTC'"}], "mark": {"type": "point", "filled": true, "size": 110, "fill": "#a9bff2", "fillOpacity": 0.6, "stroke": "#6d8ce0", "strokeWidth": 0.8}},
  {"transform": [{"filter": "datum.g == 'NTC'"}], "mark": {"type": "point", "shape": "M-1,0L1,0M0,-1L0,1", "size": 110, "filled": false, "stroke": "#6d8ce0", "strokeWidth": 0.7}},
  {"transform": [{"filter": "datum.g != 'NTC'"}], "mark": {"type": "circle", "size": 16, "opacity": 1, "clip": true}, "encoding": {"color": {"field": "g", "type": "nominal", "scale": {"domain": ["A","R","B","H","U"], "range": ["#e8150e","#a31515","#1414cc","#8a2ee0","#1c1c48"]}, "legend": null}}}
 ]}
], "spacing": 0},
{"vconcat": [
{"width": 159, "height": 13, "data": {"name": "hdr"}, "transform": [{"filter": "datum.s == 4"}], "view": {"fill": "#c7d9ee", "stroke": null},
 "encoding": {"x": {"field": "part", "type": "nominal", "scale": {"domain": ["id","name"], "range": [-21,17], "padding": 0}, "axis": null},
              "y": {"field": "s", "type": "nominal", "axis": {"domain": true, "domainColor": "#c7d9ee", "domainWidth": 24, "domainCap": "butt", "offset": 12, "labels": false, "ticks": false, "title": null, "grid": false}},
              "text": {"field": "label"}},
 "layer": [{"transform": [{"filter": "datum.part == 'id'"}], "mark": {"type": "text", "align": "left", "fontWeight": "bold", "fontSize": 7.5, "color": "#111111"}},
           {"transform": [{"filter": "datum.part == 'name'"}], "mark": {"type": "text", "align": "left", "fontSize": 8, "color": "#25406e"}}]},
{"width": 145, "height": 150, "title": "SNP04  4- GSTZ2, Call Rate: 100.00%, Auto Confidence: 99.66",
 "data": {"name": "pts"}, "transform": [{"filter": "datum.s == 4"}],
 "encoding": {"x": {"field": "x", "type": "quantitative", "scale": {"domain": [0,0.92], "nice": false, "zero": false}, "axis": {"title": "Allele A: A (SNPtype-FAM)", "values": [0,0.1,0.2,0.3,0.4,0.5,0.6,0.7,0.8,0.9,1], "format": ".1f"}},
              "y": {"field": "y", "type": "quantitative", "scale": {"domain": [0,0.99], "nice": false, "zero": false}, "axis": {"title": "Allele B: G (SNPtype-HEX)", "values": [0,0.1,0.2,0.3,0.4,0.5,0.6,0.7,0.8,0.9,1], "format": ".1f"}}},
 "layer": [
  {"transform": [{"filter": "datum.g == 'NTC'"}], "mark": {"type": "point", "filled": true, "size": 110, "fill": "#a9bff2", "fillOpacity": 0.6, "stroke": "#6d8ce0", "strokeWidth": 0.8}},
  {"transform": [{"filter": "datum.g == 'NTC'"}], "mark": {"type": "point", "shape": "M-1,0L1,0M0,-1L0,1", "size": 110, "filled": false, "stroke": "#6d8ce0", "strokeWidth": 0.7}},
  {"transform": [{"filter": "datum.g != 'NTC'"}], "mark": {"type": "circle", "size": 16, "opacity": 1, "clip": true}, "encoding": {"color": {"field": "g", "type": "nominal", "scale": {"domain": ["A","R","B","H","U"], "range": ["#e8150e","#a31515","#1414cc","#8a2ee0","#1c1c48"]}, "legend": null}}}
 ]}
], "spacing": 0}
], "spacing": 3},
{"hconcat": [
{"vconcat": [
{"width": 159, "height": 13, "data": {"name": "hdr"}, "transform": [{"filter": "datum.s == 5"}], "view": {"fill": "#c7d9ee", "stroke": null},
 "encoding": {"x": {"field": "part", "type": "nominal", "scale": {"domain": ["id","name"], "range": [-21,17], "padding": 0}, "axis": null},
              "y": {"field": "s", "type": "nominal", "axis": {"domain": true, "domainColor": "#c7d9ee", "domainWidth": 24, "domainCap": "butt", "offset": 12, "labels": false, "ticks": false, "title": null, "grid": false}},
              "text": {"field": "label"}},
 "layer": [{"transform": [{"filter": "datum.part == 'id'"}], "mark": {"type": "text", "align": "left", "fontWeight": "bold", "fontSize": 7.5, "color": "#111111"}},
           {"transform": [{"filter": "datum.part == 'name'"}], "mark": {"type": "text", "align": "left", "fontSize": 8, "color": "#25406e"}}]},
{"width": 145, "height": 150, "title": "SNP05  5- qLTG4-7, Call Rate: 100.00%, Auto Confidence: 99.81",
 "data": {"name": "pts"}, "transform": [{"filter": "datum.s == 5"}],
 "encoding": {"x": {"field": "x", "type": "quantitative", "scale": {"domain": [0,1.03], "nice": false, "zero": false}, "axis": {"title": "Allele A: G (SNPtype-FAM)", "values": [0,0.1,0.2,0.3,0.4,0.5,0.6,0.7,0.8,0.9,1], "format": ".1f"}},
              "y": {"field": "y", "type": "quantitative", "scale": {"domain": [0,1.02], "nice": false, "zero": false}, "axis": {"title": "Allele B: A (SNPtype-HEX)", "values": [0,0.1,0.2,0.3,0.4,0.5,0.6,0.7,0.8,0.9,1], "format": ".1f"}}},
 "layer": [
  {"transform": [{"filter": "datum.g == 'NTC'"}], "mark": {"type": "point", "filled": true, "size": 110, "fill": "#a9bff2", "fillOpacity": 0.6, "stroke": "#6d8ce0", "strokeWidth": 0.8}},
  {"transform": [{"filter": "datum.g == 'NTC'"}], "mark": {"type": "point", "shape": "M-1,0L1,0M0,-1L0,1", "size": 110, "filled": false, "stroke": "#6d8ce0", "strokeWidth": 0.7}},
  {"transform": [{"filter": "datum.g != 'NTC'"}], "mark": {"type": "circle", "size": 16, "opacity": 1, "clip": true}, "encoding": {"color": {"field": "g", "type": "nominal", "scale": {"domain": ["A","R","B","H","U"], "range": ["#e8150e","#a31515","#1414cc","#8a2ee0","#1c1c48"]}, "legend": null}}}
 ]}
], "spacing": 0},
{"vconcat": [
{"width": 159, "height": 13, "data": {"name": "hdr"}, "transform": [{"filter": "datum.s == 6"}], "view": {"fill": "#c7d9ee", "stroke": null},
 "encoding": {"x": {"field": "part", "type": "nominal", "scale": {"domain": ["id","name"], "range": [-21,17], "padding": 0}, "axis": null},
              "y": {"field": "s", "type": "nominal", "axis": {"domain": true, "domainColor": "#c7d9ee", "domainWidth": 24, "domainCap": "butt", "offset": 12, "labels": false, "ticks": false, "title": null, "grid": false}},
              "text": {"field": "label"}},
 "layer": [{"transform": [{"filter": "datum.part == 'id'"}], "mark": {"type": "text", "align": "left", "fontWeight": "bold", "fontSize": 7.5, "color": "#111111"}},
           {"transform": [{"filter": "datum.part == 'name'"}], "mark": {"type": "text", "align": "left", "fontSize": 8, "color": "#25406e"}}]},
{"width": 143, "height": 150, "title": "SNP06  6- qLTG7b-6, Call Rate: 99.45%, Auto Confidence: 99.41",
 "data": {"name": "pts"}, "transform": [{"filter": "datum.s == 6"}],
 "encoding": {"x": {"field": "x", "type": "quantitative", "scale": {"domain": [0,0.46], "nice": false, "zero": false}, "axis": {"title": "Allele A: A (SNPtype-FAM)", "values": [0,0.1,0.2,0.3,0.4,0.5,0.6,0.7,0.8,0.9,1], "format": ".1f"}},
              "y": {"field": "y", "type": "quantitative", "scale": {"domain": [0,0.98], "nice": false, "zero": false}, "axis": {"title": "Allele B: C (SNPtype-HEX)", "values": [0,0.1,0.2,0.3,0.4,0.5,0.6,0.7,0.8,0.9,1], "format": ".1f"}}},
 "layer": [
  {"transform": [{"filter": "datum.g == 'NTC'"}], "mark": {"type": "point", "filled": true, "size": 110, "fill": "#a9bff2", "fillOpacity": 0.6, "stroke": "#6d8ce0", "strokeWidth": 0.8}},
  {"transform": [{"filter": "datum.g == 'NTC'"}], "mark": {"type": "point", "shape": "M-1,0L1,0M0,-1L0,1", "size": 110, "filled": false, "stroke": "#6d8ce0", "strokeWidth": 0.7}},
  {"transform": [{"filter": "datum.g != 'NTC'"}], "mark": {"type": "circle", "size": 16, "opacity": 1, "clip": true}, "encoding": {"color": {"field": "g", "type": "nominal", "scale": {"domain": ["A","R","B","H","U"], "range": ["#e8150e","#a31515","#1414cc","#8a2ee0","#1c1c48"]}, "legend": null}}}
 ]}
], "spacing": 0},
{"vconcat": [
{"width": 159, "height": 13, "data": {"name": "hdr"}, "transform": [{"filter": "datum.s == 7"}], "view": {"fill": "#c7d9ee", "stroke": null},
 "encoding": {"x": {"field": "part", "type": "nominal", "scale": {"domain": ["id","name"], "range": [-21,17], "padding": 0}, "axis": null},
              "y": {"field": "s", "type": "nominal", "axis": {"domain": true, "domainColor": "#c7d9ee", "domainWidth": 24, "domainCap": "butt", "offset": 12, "labels": false, "ticks": false, "title": null, "grid": false}},
              "text": {"field": "label"}},
 "layer": [{"transform": [{"filter": "datum.part == 'id'"}], "mark": {"type": "text", "align": "left", "fontWeight": "bold", "fontSize": 7.5, "color": "#111111"}},
           {"transform": [{"filter": "datum.part == 'name'"}], "mark": {"type": "text", "align": "left", "fontSize": 8, "color": "#25406e"}}]},
{"width": 143, "height": 150, "title": "SNP07  7- qLTG3-1, Call Rate: 80.10%, Auto Confidence: 98.16",
 "data": {"name": "pts"}, "transform": [{"filter": "datum.s == 7"}],
 "encoding": {"x": {"field": "x", "type": "quantitative", "scale": {"domain": [0,0.92], "nice": false, "zero": false}, "axis": {"title": "Allele A: A (SNPtype-FAM)", "values": [0,0.1,0.2,0.3,0.4,0.5,0.6,0.7,0.8,0.9,1], "format": ".1f"}},
              "y": {"field": "y", "type": "quantitative", "scale": {"domain": [0,0.99], "nice": false, "zero": false}, "axis": {"title": "Allele B: T (SNPtype-HEX)", "values": [0,0.1,0.2,0.3,0.4,0.5,0.6,0.7,0.8,0.9,1], "format": ".1f"}}},
 "layer": [
  {"transform": [{"filter": "datum.g == 'NTC'"}], "mark": {"type": "point", "filled": true, "size": 110, "fill": "#a9bff2", "fillOpacity": 0.6, "stroke": "#6d8ce0", "strokeWidth": 0.8}},
  {"transform": [{"filter": "datum.g == 'NTC'"}], "mark": {"type": "point", "shape": "M-1,0L1,0M0,-1L0,1", "size": 110, "filled": false, "stroke": "#6d8ce0", "strokeWidth": 0.7}},
  {"transform": [{"filter": "datum.g != 'NTC'"}], "mark": {"type": "circle", "size": 16, "opacity": 1, "clip": true}, "encoding": {"color": {"field": "g", "type": "nominal", "scale": {"domain": ["A","R","B","H","U"], "range": ["#e8150e","#a31515","#1414cc","#8a2ee0","#1c1c48"]}, "legend": null}}}
 ]}
], "spacing": 0},
{"vconcat": [
{"width": 159, "height": 13, "data": {"name": "hdr"}, "transform": [{"filter": "datum.s == 8"}], "view": {"fill": "#c7d9ee", "stroke": null},
 "encoding": {"x": {"field": "part", "type": "nominal", "scale": {"domain": ["id","name"], "range": [-21,17], "padding": 0}, "axis": null},
              "y": {"field": "s", "type": "nominal", "axis": {"domain": true, "domainColor": "#c7d9ee", "domainWidth": 24, "domainCap": "butt", "offset": 12, "labels": false, "ticks": false, "title": null, "grid": false}},
              "text": {"field": "label"}},
 "layer": [{"transform": [{"filter": "datum.part == 'id'"}], "mark": {"type": "text", "align": "left", "fontWeight": "bold", "fontSize": 7.5, "color": "#111111"}},
           {"transform": [{"filter": "datum.part == 'name'"}], "mark": {"type": "text", "align": "left", "fontSize": 8, "color": "#25406e"}}]},
{"width": 143, "height": 150, "title": "SNP08  8- qLTG4-8b, Call Rate: 98.96%, Auto Confidence: 99.27",
 "data": {"name": "pts"}, "transform": [{"filter": "datum.s == 8"}],
 "encoding": {"x": {"field": "x", "type": "quantitative", "scale": {"domain": [0,0.92], "nice": false, "zero": false}, "axis": {"title": "Allele A: C (SNPtype-FAM)", "values": [0,0.1,0.2,0.3,0.4,0.5,0.6,0.7,0.8,0.9,1], "format": ".1f"}},
              "y": {"field": "y", "type": "quantitative", "scale": {"domain": [0,0.69], "nice": false, "zero": false}, "axis": {"title": "Allele B: T (SNPtype-HEX)", "values": [0,0.1,0.2,0.3,0.4,0.5,0.6,0.7,0.8,0.9,1], "format": ".1f"}}},
 "layer": [
  {"transform": [{"filter": "datum.g == 'NTC'"}], "mark": {"type": "point", "filled": true, "size": 110, "fill": "#a9bff2", "fillOpacity": 0.6, "stroke": "#6d8ce0", "strokeWidth": 0.8}},
  {"transform": [{"filter": "datum.g == 'NTC'"}], "mark": {"type": "point", "shape": "M-1,0L1,0M0,-1L0,1", "size": 110, "filled": false, "stroke": "#6d8ce0", "strokeWidth": 0.7}},
  {"transform": [{"filter": "datum.g != 'NTC'"}], "mark": {"type": "circle", "size": 16, "opacity": 1, "clip": true}, "encoding": {"color": {"field": "g", "type": "nominal", "scale": {"domain": ["A","R","B","H","U"], "range": ["#e8150e","#a31515","#1414cc","#8a2ee0","#1c1c48"]}, "legend": null}}}
 ]}
], "spacing": 0}
], "spacing": 3},
{"hconcat": [
{"vconcat": [
{"width": 159, "height": 13, "data": {"name": "hdr"}, "transform": [{"filter": "datum.s == 9"}], "view": {"fill": "#c7d9ee", "stroke": null},
 "encoding": {"x": {"field": "part", "type": "nominal", "scale": {"domain": ["id","name"], "range": [-21,17], "padding": 0}, "axis": null},
              "y": {"field": "s", "type": "nominal", "axis": {"domain": true, "domainColor": "#c7d9ee", "domainWidth": 24, "domainCap": "butt", "offset": 12, "labels": false, "ticks": false, "title": null, "grid": false}},
              "text": {"field": "label"}},
 "layer": [{"transform": [{"filter": "datum.part == 'id'"}], "mark": {"type": "text", "align": "left", "fontWeight": "bold", "fontSize": 7.5, "color": "#111111"}},
           {"transform": [{"filter": "datum.part == 'name'"}], "mark": {"type": "text", "align": "left", "fontSize": 8, "color": "#25406e"}}]},
{"width": 145, "height": 150, "title": "SNP09  9- qLTG7b-7, Call Rate: 100.00%, Auto Confidence: 99.7",
 "data": {"name": "pts"}, "transform": [{"filter": "datum.s == 9"}],
 "encoding": {"x": {"field": "x", "type": "quantitative", "scale": {"domain": [0,0.93], "nice": false, "zero": false}, "axis": {"title": "Allele A: C (SNPtype-FAM)", "values": [0,0.1,0.2,0.3,0.4,0.5,0.6,0.7,0.8,0.9,1], "format": ".1f"}},
              "y": {"field": "y", "type": "quantitative", "scale": {"domain": [0,0.98], "nice": false, "zero": false}, "axis": {"title": "Allele B: G (SNPtype-HEX)", "values": [0,0.1,0.2,0.3,0.4,0.5,0.6,0.7,0.8,0.9,1], "format": ".1f"}}},
 "layer": [
  {"transform": [{"filter": "datum.g == 'NTC'"}], "mark": {"type": "point", "filled": true, "size": 110, "fill": "#a9bff2", "fillOpacity": 0.6, "stroke": "#6d8ce0", "strokeWidth": 0.8}},
  {"transform": [{"filter": "datum.g == 'NTC'"}], "mark": {"type": "point", "shape": "M-1,0L1,0M0,-1L0,1", "size": 110, "filled": false, "stroke": "#6d8ce0", "strokeWidth": 0.7}},
  {"transform": [{"filter": "datum.g != 'NTC'"}], "mark": {"type": "circle", "size": 16, "opacity": 1, "clip": true}, "encoding": {"color": {"field": "g", "type": "nominal", "scale": {"domain": ["A","R","B","H","U"], "range": ["#e8150e","#a31515","#1414cc","#8a2ee0","#1c1c48"]}, "legend": null}}}
 ]}
], "spacing": 0},
{"vconcat": [
{"width": 159, "height": 13, "data": {"name": "hdr"}, "transform": [{"filter": "datum.s == 10"}], "view": {"fill": "#c7d9ee", "stroke": null},
 "encoding": {"x": {"field": "part", "type": "nominal", "scale": {"domain": ["id","name"], "range": [-21,17], "padding": 0}, "axis": null},
              "y": {"field": "s", "type": "nominal", "axis": {"domain": true, "domainColor": "#c7d9ee", "domainWidth": 24, "domainCap": "butt", "offset": 12, "labels": false, "ticks": false, "title": null, "grid": false}},
              "text": {"field": "label"}},
 "layer": [{"transform": [{"filter": "datum.part == 'id'"}], "mark": {"type": "text", "align": "left", "fontWeight": "bold", "fontSize": 7.5, "color": "#111111"}},
           {"transform": [{"filter": "datum.part == 'name'"}], "mark": {"type": "text", "align": "left", "fontSize": 8, "color": "#25406e"}}]},
{"width": 145, "height": 150, "title": "SNP10  10- qLTG4-1, Call Rate: 97.59%, Auto Confidence: 98.38",
 "data": {"name": "pts"}, "transform": [{"filter": "datum.s == 10"}],
 "encoding": {"x": {"field": "x", "type": "quantitative", "scale": {"domain": [0,0.93], "nice": false, "zero": false}, "axis": {"title": "Allele A: G (SNPtype-FAM)", "values": [0,0.1,0.2,0.3,0.4,0.5,0.6,0.7,0.8,0.9,1], "format": ".1f"}},
              "y": {"field": "y", "type": "quantitative", "scale": {"domain": [0,0.98], "nice": false, "zero": false}, "axis": {"title": "Allele B: T (SNPtype-HEX)", "values": [0,0.1,0.2,0.3,0.4,0.5,0.6,0.7,0.8,0.9,1], "format": ".1f"}}},
 "layer": [
  {"transform": [{"filter": "datum.g == 'NTC'"}], "mark": {"type": "point", "filled": true, "size": 110, "fill": "#a9bff2", "fillOpacity": 0.6, "stroke": "#6d8ce0", "strokeWidth": 0.8}},
  {"transform": [{"filter": "datum.g == 'NTC'"}], "mark": {"type": "point", "shape": "M-1,0L1,0M0,-1L0,1", "size": 110, "filled": false, "stroke": "#6d8ce0", "strokeWidth": 0.7}},
  {"transform": [{"filter": "datum.g != 'NTC'"}], "mark": {"type": "circle", "size": 16, "opacity": 1, "clip": true}, "encoding": {"color": {"field": "g", "type": "nominal", "scale": {"domain": ["A","R","B","H","U"], "range": ["#e8150e","#a31515","#1414cc","#8a2ee0","#1c1c48"]}, "legend": null}}}
 ]}
], "spacing": 0},
{"vconcat": [
{"width": 159, "height": 13, "data": {"name": "hdr"}, "transform": [{"filter": "datum.s == 11"}], "view": {"fill": "#c7d9ee", "stroke": null},
 "encoding": {"x": {"field": "part", "type": "nominal", "scale": {"domain": ["id","name"], "range": [-21,17], "padding": 0}, "axis": null},
              "y": {"field": "s", "type": "nominal", "axis": {"domain": true, "domainColor": "#c7d9ee", "domainWidth": 24, "domainCap": "butt", "offset": 12, "labels": false, "ticks": false, "title": null, "grid": false}},
              "text": {"field": "label"}},
 "layer": [{"transform": [{"filter": "datum.part == 'id'"}], "mark": {"type": "text", "align": "left", "fontWeight": "bold", "fontSize": 7.5, "color": "#111111"}},
           {"transform": [{"filter": "datum.part == 'name'"}], "mark": {"type": "text", "align": "left", "fontSize": 8, "color": "#25406e"}}]},
{"width": 142, "height": 150, "title": "SNP11  11- qLTG4-9, Call Rate: 100.00%, Auto Confidence: 99.6",
 "data": {"name": "pts"}, "transform": [{"filter": "datum.s == 11"}],
 "encoding": {"x": {"field": "x", "type": "quantitative", "scale": {"domain": [0,0.93], "nice": false, "zero": false}, "axis": {"title": "Allele A: T (SNPtype-FAM)", "values": [0,0.1,0.2,0.3,0.4,0.5,0.6,0.7,0.8,0.9,1], "format": ".1f"}},
              "y": {"field": "y", "type": "quantitative", "scale": {"domain": [0,0.965], "nice": false, "zero": false}, "axis": {"title": "Allele B: C (SNPtype-HEX)", "values": [0,0.1,0.2,0.3,0.4,0.5,0.6,0.7,0.8,0.9,1], "format": ".1f"}}},
 "layer": [
  {"transform": [{"filter": "datum.g == 'NTC'"}], "mark": {"type": "point", "filled": true, "size": 110, "fill": "#a9bff2", "fillOpacity": 0.6, "stroke": "#6d8ce0", "strokeWidth": 0.8}},
  {"transform": [{"filter": "datum.g == 'NTC'"}], "mark": {"type": "point", "shape": "M-1,0L1,0M0,-1L0,1", "size": 110, "filled": false, "stroke": "#6d8ce0", "strokeWidth": 0.7}},
  {"transform": [{"filter": "datum.g != 'NTC'"}], "mark": {"type": "circle", "size": 16, "opacity": 1, "clip": true}, "encoding": {"color": {"field": "g", "type": "nominal", "scale": {"domain": ["A","R","B","H","U"], "range": ["#e8150e","#a31515","#1414cc","#8a2ee0","#1c1c48"]}, "legend": null}}}
 ]}
], "spacing": 0},
{"vconcat": [
{"width": 159, "height": 13, "data": {"name": "hdr"}, "transform": [{"filter": "datum.s == 12"}], "view": {"fill": "#c7d9ee", "stroke": null},
 "encoding": {"x": {"field": "part", "type": "nominal", "scale": {"domain": ["id","name"], "range": [-21,17], "padding": 0}, "axis": null},
              "y": {"field": "s", "type": "nominal", "axis": {"domain": true, "domainColor": "#c7d9ee", "domainWidth": 24, "domainCap": "butt", "offset": 12, "labels": false, "ticks": false, "title": null, "grid": false}},
              "text": {"field": "label"}},
 "layer": [{"transform": [{"filter": "datum.part == 'id'"}], "mark": {"type": "text", "align": "left", "fontWeight": "bold", "fontSize": 7.5, "color": "#111111"}},
           {"transform": [{"filter": "datum.part == 'name'"}], "mark": {"type": "text", "align": "left", "fontSize": 8, "color": "#25406e"}}]},
{"width": 145, "height": 150, "title": "SNP12  12- qLTG7b-8, Call Rate: 100.00%, Auto Confidence: 98.4",
 "data": {"name": "pts"}, "transform": [{"filter": "datum.s == 12"}],
 "encoding": {"x": {"field": "x", "type": "quantitative", "scale": {"domain": [0,0.93], "nice": false, "zero": false}, "axis": {"title": "Allele A: T (SNPtype-FAM)", "values": [0,0.1,0.2,0.3,0.4,0.5,0.6,0.7,0.8,0.9,1], "format": ".1f"}},
              "y": {"field": "y", "type": "quantitative", "scale": {"domain": [0,0.96], "nice": false, "zero": false}, "axis": {"title": "Allele B: C (SNPtype-HEX)", "values": [0,0.1,0.2,0.3,0.4,0.5,0.6,0.7,0.8,0.9,1], "format": ".1f"}}},
 "layer": [
  {"transform": [{"filter": "datum.g == 'NTC'"}], "mark": {"type": "point", "filled": true, "size": 110, "fill": "#a9bff2", "fillOpacity": 0.6, "stroke": "#6d8ce0", "strokeWidth": 0.8}},
  {"transform": [{"filter": "datum.g == 'NTC'"}], "mark": {"type": "point", "shape": "M-1,0L1,0M0,-1L0,1", "size": 110, "filled": false, "stroke": "#6d8ce0", "strokeWidth": 0.7}},
  {"transform": [{"filter": "datum.g != 'NTC'"}], "mark": {"type": "circle", "size": 16, "opacity": 1, "clip": true}, "encoding": {"color": {"field": "g", "type": "nominal", "scale": {"domain": ["A","R","B","H","U"], "range": ["#e8150e","#a31515","#1414cc","#8a2ee0","#1c1c48"]}, "legend": null}}}
 ]}
], "spacing": 0}
], "spacing": 3}
],
"spacing": 2,
"config": {
 "font": "Liberation Sans",
 "background": "#eeeeee",
 "view": {"fill": "#ffffff", "stroke": "#c4c4c4"},
 "axis": {"domain": false, "ticks": false, "gridColor": "#dadada", "gridWidth": 0.8, "labelFontSize": 5.5, "labelColor": "#333333", "labelPadding": 3, "titleFontSize": 5.5, "titleFontWeight": "normal", "titlePadding": 4},
 "axisX": {"titleColor": "#e02020", "titlePadding": 2},
 "axisY": {"titleColor": "#2b2bd0"},
 "title": {"fontSize": 5, "fontWeight": "normal", "color": "#222222", "offset": 6, "anchor": "middle"}
}
}
